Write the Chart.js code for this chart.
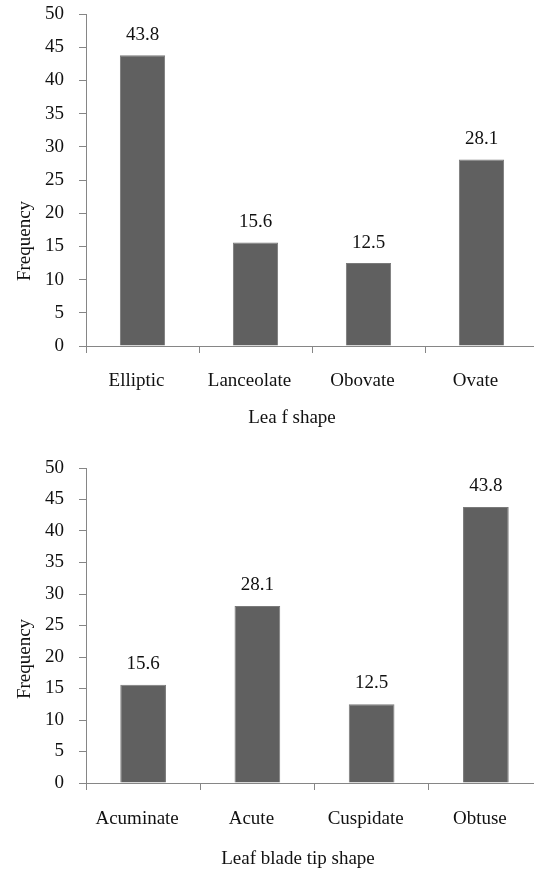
<!DOCTYPE html>
<html>
<head>
<meta charset="utf-8">
<script src="https://cdn.jsdelivr.net/npm/chart.js@4.4.1/dist/chart.umd.min.js"></script>
<style>
  html, body { margin: 0; padding: 0; background: #ffffff; }
  body { width: 534px; height: 871px; position: relative; overflow: hidden; }
  .box { position: absolute; left: 0; width: 550px; }
  #b1 { top: 0; height: 430px; }
  #b2 { top: 440px; height: 431px; }
</style>
</head>
<body>
<div class="box" id="b1"><canvas id="c1"></canvas></div>
<div class="box" id="b2"><canvas id="c2"></canvas></div>
<script>
// ---- data ----
const leafShapeCategories = ["Elliptic", "Lanceolate", "Obovate", "Ovate"];
const leafShapeValues = [43.8, 15.6, 12.5, 28.1];
const tipShapeCategories = ["Acuminate", "Acute", "Cuspidate", "Obtuse"];
const tipShapeValues = [15.6, 28.1, 12.5, 43.8];
const yTickValues = [0, 5, 10, 15, 20, 25, 30, 35, 40, 45, 50];
const yAxisTitle = "Frequency";
const xTitleTop = "Lea f shape";
const xTitleBottom = "Leaf blade tip shape";

const FONT = "'Liberation Serif', 'Times New Roman', serif";
const AXIS = "#868686";
const BAR = "#606060";
const TXT = "#111111";

const labelPlugin = {
  id: 'valueLabels',
  afterDatasetsDraw(chart, args, opts) {
    const ctx = chart.ctx;
    ctx.save();
    ctx.font = "19px " + FONT;
    ctx.fillStyle = TXT;
    ctx.textAlign = "center";
    ctx.textBaseline = "alphabetic";
    const meta = chart.getDatasetMeta(0);
    const data = chart.data.datasets[0].data;
    meta.data.forEach((bar, i) => {
      ctx.fillText(Number(data[i]).toFixed(1), bar.x, bar.y - opts.gap);
    });
    // x-axis title
    ctx.textBaseline = "middle";
    ctx.fillText(opts.xTitle, opts.xTitleX, opts.xTitleY);
    // rotated y-axis title
    ctx.translate(opts.titleX, opts.titleY);
    ctx.rotate(-Math.PI / 2);
    ctx.fillText(opts.yTitle, 0, 0);
    ctx.restore();
  }
};

function makeChart(id, cats, vals, xTitle, cfg) {
  return new Chart(document.getElementById(id), {
    type: 'bar',
    data: {
      labels: cats,
      datasets: [{
        data: vals,
        backgroundColor: BAR,
        borderColor: "#7a7a7a",
        borderWidth: 1,
        barPercentage: 0.8,
        categoryPercentage: 0.5
      }]
    },
    plugins: [labelPlugin],
    options: {
      responsive: true,
      maintainAspectRatio: false,
      animation: false,
      events: [],
      layout: { padding: { top: cfg.top, right: cfg.right, left: 0, bottom: 0 } },
      plugins: {
        legend: { display: false },
        tooltip: { enabled: false },
        valueLabels: {
          gap: cfg.gap, titleX: 25, titleY: cfg.titleY, yTitle: yAxisTitle,
          xTitle: xTitle, xTitleX: cfg.xtX, xTitleY: cfg.xtY
        }
      },
      scales: {
        x: {
          offset: true,
          grid: { display: true, offset: true, drawOnChartArea: false, drawTicks: true, tickLength: 7, color: AXIS, lineWidth: 1 },
          border: { display: true, color: AXIS, width: 1 },
          ticks: { color: TXT, font: { family: FONT, size: 19 }, padding: cfg.xpad, labelOffset: -6, maxRotation: 0, autoSkip: false },
          title: { display: false },
          afterFit(scale) { scale.height = cfg.xh; scale.paddingLeft = 0; scale.paddingRight = 0; }
        },
        y: {
          min: 0, max: 50,
          afterBuildTicks(scale) { scale.ticks = yTickValues.map(v => ({ value: v })); },
          grid: { display: true, drawOnChartArea: false, drawTicks: true, tickLength: 7, color: AXIS, lineWidth: 1 },
          border: { display: true, color: AXIS, width: 1 },
          ticks: { color: TXT, font: { family: FONT, size: 19 }, padding: 15 },
          afterFit(scale) { scale.width = 86; scale.paddingTop = 0; scale.paddingBottom = 0; }
        }
      }
    }
  });
}

makeChart('c1', leafShapeCategories, leafShapeValues, xTitleTop,
  { top: 14, right: 12, xh: 84, gap: 15, titleY: 241, xpad: 17, xtX: 292, xtY: 417.6 });
makeChart('c2', tipShapeCategories, tipShapeValues, xTitleBottom,
  { top: 28, right: 7, xh: 88, gap: 16, titleY: 219, xpad: 18, xtX: 298, xtY: 418.6 });
</script>
</body>
</html>
